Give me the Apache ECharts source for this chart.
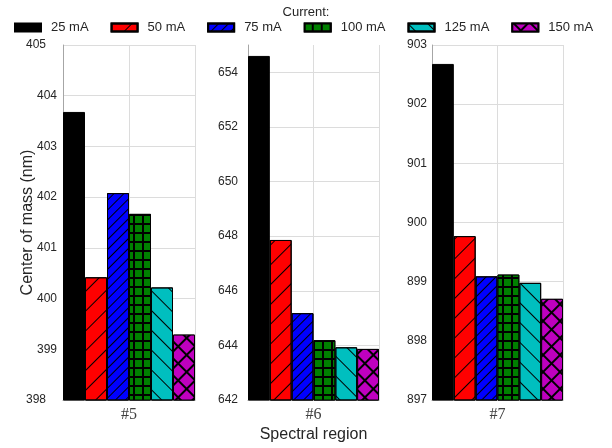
<!DOCTYPE html>
<html>
<head>
<meta charset="utf-8">
<script src="https://cdn.jsdelivr.net/npm/echarts@6/dist/echarts.min.js"></script>
<style>
  html, body { margin: 0; padding: 0; background: #fff; }
  #chart { width: 612px; height: 448px; }
</style>
</head>
<body>
<div id="chart"></div>
<script>
// Spectral regions and drive currents
const regions = ['#5', '#6', '#7'];
const currents = ['25 mA', '50 mA', '75 mA', '100 mA', '125 mA', '150 mA'];

// Center of mass (nm) per region, one value per current
const cmRegion5 = [403.68, 400.42, 402.08, 401.67, 400.22, 399.29];
const cmRegion6 = [654.60, 647.86, 645.18, 644.19, 643.93, 643.87];
const cmRegion7 = [902.68, 899.77, 899.09, 899.12, 898.98, 898.71];

// Value-axis ranges per panel
const yMin = [398, 642, 897];
const yMax = [405, 655, 903];
const yStep = [1, 2, 1];

const values = [cmRegion5, cmRegion6, cmRegion7];

// Fill colour and hatch pattern for each current
const hatch = Math.PI / 4;
const styles = [
  { color: '#000000' },
  { color: '#ff0000', decal: { symbol: 'rect', color: '#000', dashArrayX: [1, 0], dashArrayY: [1, 13], rotation: -hatch } },
  { color: '#0000ff', decal: { symbol: 'rect', color: '#000', dashArrayX: [1, 0], dashArrayY: [1, 5.5], rotation: -hatch } },
  { color: '#000000', decal: { symbol: 'rect', color: '#008000', dashArrayX: [6.5, 1.5], dashArrayY: [6.5, 1.5], rotation: 0 } },
  { color: '#00bfbf', decal: { symbol: 'rect', color: '#000', dashArrayX: [1, 0], dashArrayY: [1, 13], rotation: hatch } },
  { color: '#000000', decal: { symbol: 'rect', color: '#bf00bf', dashArrayX: [10, 1.2], dashArrayY: [10, 1.2], rotation: hatch } }
];

const panels = [
  { left: 63, width: 132, labelMargin: 6 },
  { left: 248, width: 131, labelMargin: 10 },
  { left: 432, width: 131, labelMargin: 5 }
];

const grids = [], xAxes = [], yAxes = [], series = [];
panels.forEach((p, i) => {
  grids.push({ left: p.left, width: p.width, top: 45, height: 355 });
  // category axis carrying the bars and the region label
  xAxes.push({
    type: 'category', gridIndex: i, data: [regions[i]],
    axisLine: { show: true, lineStyle: { color: '#a6a6a6' } },
    axisTick: { show: false },
    axisLabel: { margin: 7, fontFamily: 'Liberation Serif', fontSize: 16, color: '#404040' },
    splitLine: { show: false },
    name: i === 1 ? 'Spectral region' : '',
    nameLocation: 'middle', nameGap: 27, nameMoveOverlap: false,
    nameTextStyle: { fontFamily: 'Liberation Sans', fontSize: 16, color: '#262626' }
  });
  // helper axis for the vertical grid lines
  xAxes.push({
    type: 'value', gridIndex: i, min: 0, max: 2, interval: 1,
    axisLine: { show: false }, axisTick: { show: false }, axisLabel: { show: false },
    splitLine: { show: true, lineStyle: { color: '#dcdcdc' } }
  });
  yAxes.push({
    type: 'value', gridIndex: i, min: yMin[i], max: yMax[i], interval: yStep[i],
    axisLine: { show: true, lineStyle: { color: '#a6a6a6' } },
    axisTick: { show: false },
    splitLine: { show: true, showMaxLine: yMax[i] % yStep[i] === 0, lineStyle: { color: '#dcdcdc' } },
    axisLabel: {
      margin: p.labelMargin, fontFamily: 'Liberation Sans', fontSize: 12, color: '#262626',
      showMaxLabel: yMax[i] % yStep[i] === 0,
      formatter: (v) => (i === 0 && (v === yMin[i] || v === yMax[i])) ? '{e|' + v + '}' : String(v),
      rich: { e: { fontFamily: 'Liberation Sans', fontSize: 12, color: '#262626', padding: [0, 11, 0, 0] } }
    },
    name: i === 0 ? 'Center of mass (nm)' : '',
    nameLocation: 'middle', nameGap: 27, nameMoveOverlap: false,
    nameTextStyle: { fontFamily: 'Liberation Sans', fontSize: 16, color: '#262626' }
  });
  currents.forEach((c, k) => {
    series.push({
      type: 'bar', name: c,
      xAxisIndex: i * 2, yAxisIndex: i,
      data: [values[i][k]],
      barGap: '0%', barCategoryGap: '0%',
      itemStyle: Object.assign({ borderColor: '#000', borderWidth: 1 }, styles[k]),
      emphasis: { disabled: true }
    });
  });
});

const chart = echarts.init(document.getElementById('chart'), null, { renderer: 'canvas' });
chart.setOption({
  animation: false,
  backgroundColor: '#ffffff',
  title: {
    text: 'Current:', left: 'center', top: 1,
    textStyle: { fontFamily: 'Liberation Sans', fontSize: 13, fontWeight: 'normal', color: '#262626' }
  },
  legend: {
    data: currents, left: 14, top: 21, padding: 0, icon: 'rect',
    itemWidth: 26, itemHeight: 8, itemGap: 22,
    textStyle: { fontFamily: 'Liberation Sans', fontSize: 13, color: '#262626', padding: [0, 0, 0, 5] },
    selectedMode: false
  },
  grid: grids,
  xAxis: xAxes,
  yAxis: yAxes,
  series: series
});
</script>
</body>
</html>
